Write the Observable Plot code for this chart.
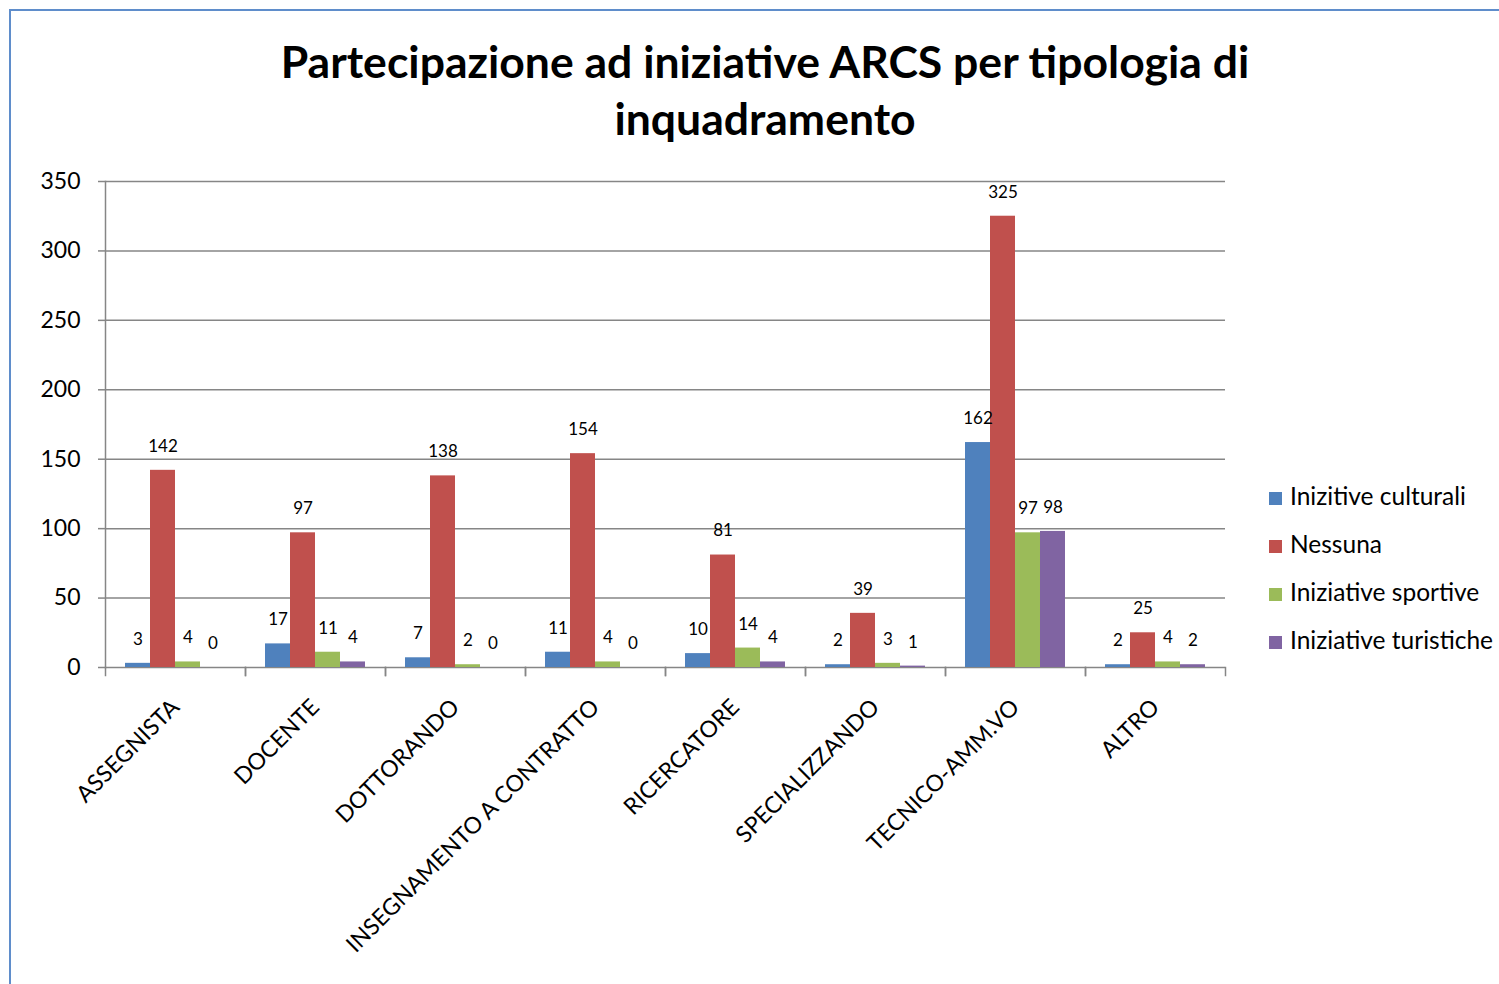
<!DOCTYPE html>
<html>
<head>
<meta charset="utf-8">
<script src="https://cdn.jsdelivr.net/npm/d3@7"></script>
<script src="https://cdn.jsdelivr.net/npm/@observablehq/plot@0.6"></script>
<style>
  html, body { margin: 0; padding: 0; background: #fff; overflow: hidden; }
  body { width: 1499px; height: 984px; position: relative; font-family: Lato, "Open Sans", sans-serif; }
  #border { position: absolute; left: 9px; top: 9px; width: 1600px; height: 1100px; border: 2px solid #5f8dcb; box-sizing: border-box; }
  #title { position: absolute; left: 215px; width: 1100px; top: 32px; text-align: center; font-weight: bold; font-size: 44.5px; line-height: 57px; color: #000; }
  #chart { position: absolute; left: 0; top: 0; }
  #legend { position: absolute; left: 1269px; top: 481px; font-size: 24.5px; color: #000; }
  .item { height: 48px; display: flex; align-items: flex-start; }
  .sw { width: 13px; height: 13px; margin-top: 11px; margin-right: 8px; }
</style>
</head>
<body>
<div id="border"></div>
<div id="title">Partecipazione ad iniziative ARCS per tipologia di<br>inquadramento</div>
<div id="chart"></div>
<div id="legend"></div>
<script>
const categories = ["ASSEGNISTA", "DOCENTE", "DOTTORANDO", "INSEGNAMENTO A CONTRATTO", "RICERCATORE", "SPECIALIZZANDO", "TECNICO-AMM.VO", "ALTRO"];
const series = ["Inizitive culturali", "Nessuna", "Iniziative sportive", "Iniziative turistiche"];
const colors = ["#4f81bd", "#c0504d", "#9bbb59", "#8064a2"];
const culturali = [3, 17, 7, 11, 10, 2, 162, 2];
const nessuna = [142, 97, 138, 154, 81, 39, 325, 25];
const sportive = [4, 11, 2, 4, 14, 3, 97, 4];
const turistiche = [0, 4, 0, 0, 4, 1, 98, 2];
const yTicks = [0, 50, 100, 150, 200, 250, 300, 350];

const values = [culturali, nessuna, sportive, turistiche];
const data = [];
categories.forEach((c, i) => series.forEach((s, j) => data.push({cat: c, series: s, value: values[j][i]})));

const gray = "#868686";
const plot = Plot.plot({
  width: 1499,
  height: 984,
  marginLeft: 104,
  marginRight: 273,
  marginTop: 181,
  marginBottom: 317,
  style: {fontFamily: "Lato, 'Open Sans', sans-serif", background: "transparent"},
  fx: {domain: categories, padding: 0, label: null},
  x: {domain: series, paddingInner: 0, paddingOuter: 0.75, axis: null},
  y: {domain: [0, 350], label: null},
  color: {domain: series, range: colors},
  marks: [
    Plot.gridY(yTicks, {stroke: gray, strokeOpacity: 1, strokeWidth: 1.5}),
    Plot.barY(data, {fx: "cat", x: "series", y: "value", fill: "series"}),
    Plot.text(data, {fx: "cat", x: "series", y: "value", text: "value", dy: -24, fontSize: 17, fill: "#000"}),
    Plot.axisY(yTicks, {tickSize: 7, tickPadding: 18, fontSize: 23, stroke: gray, fill: "#000", label: null, strokeWidth: 1.5}),
    Plot.frame({anchor: "left", facet: "super", stroke: gray, strokeWidth: 1.5}),
    Plot.frame({anchor: "left", stroke: gray, strokeWidth: 1.5, insetTop: 486, insetBottom: -8}),
    Plot.frame({anchor: "right", stroke: gray, strokeWidth: 1.5, insetTop: 486, insetBottom: -8}),
    Plot.axisFx({anchor: "bottom", tickRotate: -45, tickSize: 0, tickPadding: 36, fontSize: 23, fill: "#000", label: null})
  ]
});
document.getElementById("chart").appendChild(plot);

const legend = document.getElementById("legend");
series.forEach((s, j) => {
  const it = document.createElement("div");
  it.className = "item";
  it.innerHTML = `<div class="sw" style="background:${colors[j]}"></div><span>${s}</span>`;
  legend.appendChild(it);
});
</script>
</body>
</html>
